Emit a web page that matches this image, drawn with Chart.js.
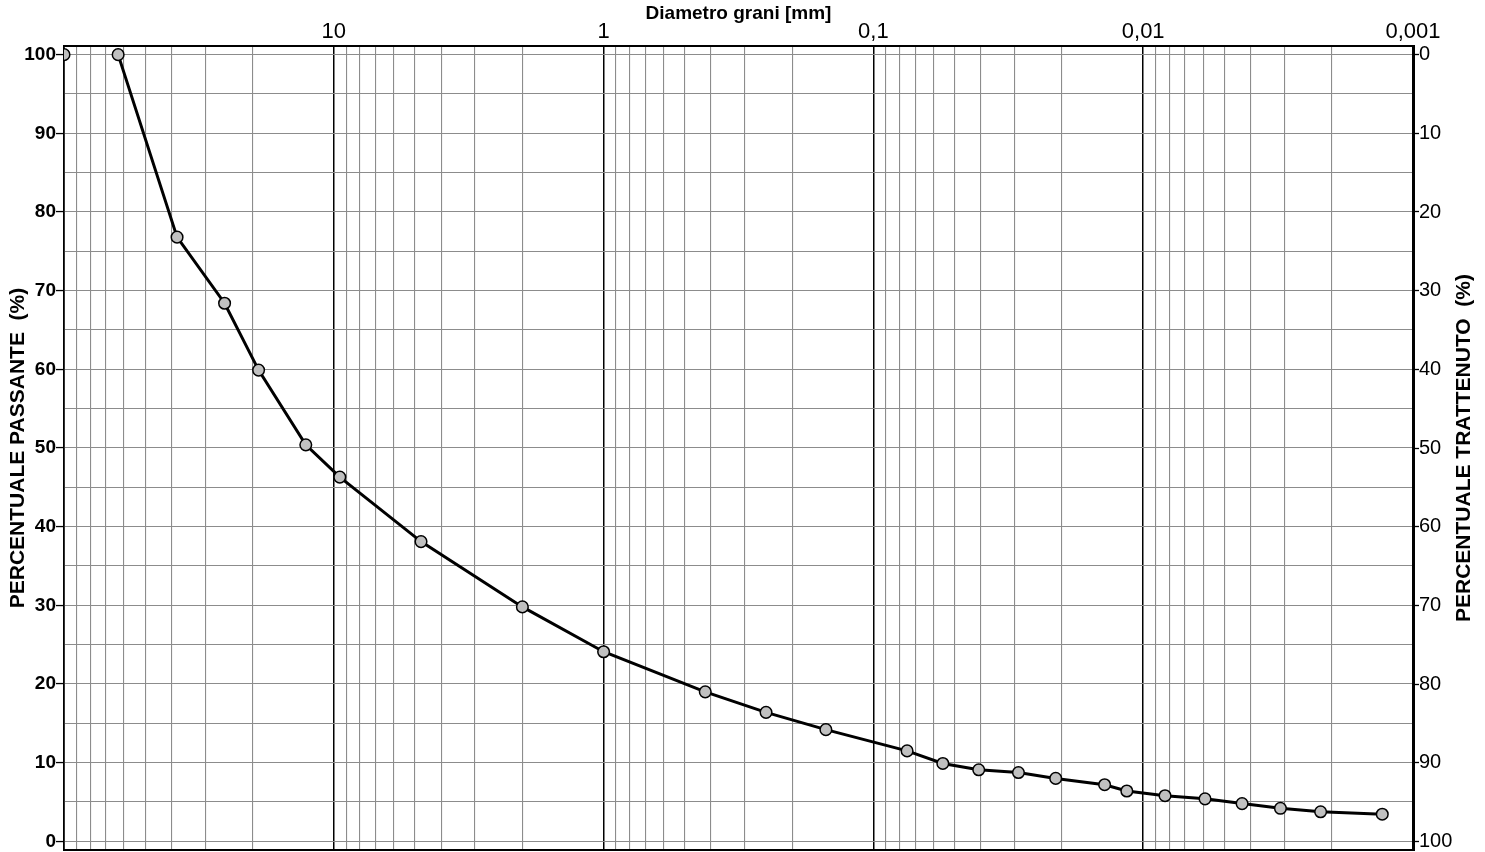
<!DOCTYPE html>
<html><head><meta charset="utf-8">
<script src="https://cdn.jsdelivr.net/npm/chart.js@4"></script>
<style>html,body{margin:0;padding:0;background:#fff}#wrap{width:1485px;height:852px;position:relative}</style>
</head><body><div id="wrap"><canvas id="c"></canvas></div>
<script>
// ---- data ----
const diameters = [100, 63, 38.1, 25.4, 19, 12.7, 9.5, 4.75, 2, 1, 0.42, 0.25, 0.15, 0.075, 0.0553, 0.0407, 0.029, 0.0211, 0.0139, 0.0115, 0.0083, 0.0059, 0.0043, 0.0031, 0.0022, 0.0013];
const passing   = [100, 100, 76.8, 68.4, 59.9, 50.4, 46.3, 38.1, 29.8, 24.1, 19.0, 16.4, 14.2, 11.5, 9.9, 9.1, 8.75, 8.0, 7.2, 6.4, 5.8, 5.4, 4.8, 4.2, 3.76, 3.45];

const decadeValues = [100, 10, 1, 0.1, 0.01, 0.001];
const decadeLabels = ['', '10', '1', '0,1', '0,01', '0,001'];
const minorMultipliers = [1, 2, 3, 4, 5, 6, 7, 8, 9];
const yLabelTicks = [0, 10, 20, 30, 40, 50, 60, 70, 80, 90, 100];
const yGridTicks = [0, 5, 10, 15, 20, 25, 30, 35, 40, 45, 50, 55, 60, 65, 70, 75, 80, 85, 90, 95, 100];

const xTitle = 'Diametro grani [mm]';
const yLeftTitle = 'PERCENTUALE PASSANTE  (%)';
const yRightTitle = 'PERCENTUALE TRATTENUTO  (%)';

// ---- helpers ----
const FONT = '"Liberation Sans", Arial, sans-serif';
const xTickValues = [];
decadeValues.slice(1).forEach(d => minorMultipliers.forEach(m => xTickValues.push(d * m)));
xTickValues.push(100);
function decadeIndex(v) {
  for (let i = 0; i < decadeValues.length; i++) {
    if (Math.abs(Math.log10(v) - Math.log10(decadeValues[i])) < 1e-9) return i;
  }
  return -1;
}

const points = diameters.map((d, i) => ({ x: d, y: passing[i] }));

const rightTitlePlugin = {
  id: 'rightTitle',
  afterDraw(chart) {
    const ctx = chart.ctx, s = chart.scales.y2, a = chart.chartArea;
    ctx.save();
    ctx.font = 'bold 21px ' + FONT;
    ctx.fillStyle = '#000';
    ctx.textAlign = 'center';
    ctx.textBaseline = 'middle';
    ctx.translate(s.right - 21, (a.top + a.bottom) / 2);
    ctx.rotate(-Math.PI / 2);
    ctx.fillText(yRightTitle, 0, 0);
    ctx.restore();
  }
};

const noPad = s => { s.paddingTop = 0; s.paddingBottom = 0; s.paddingLeft = 0; s.paddingRight = 0; };

new Chart(document.getElementById('c'), {
  type: 'line',
  data: {
    datasets: [{
      data: points,
      borderColor: '#000',
      borderWidth: 3,
      tension: 0,
      segment: { borderColor: c => c.p0DataIndex === 0 ? 'rgba(0,0,0,0)' : '#000' },
      pointRadius: 5.8,
      pointBackgroundColor: '#c0c0c0',
      pointBorderColor: '#000',
      pointBorderWidth: 1.5,
      xAxisID: 'x',
      yAxisID: 'y'
    }]
  },
  options: {
    responsive: true,
    maintainAspectRatio: false,
    animation: false,
    layout: { padding: 0, autoPadding: false },
    plugins: { legend: { display: false }, tooltip: { enabled: false } },
    scales: {
      x: {
        type: 'logarithmic',
        position: 'top',
        reverse: true,
        min: 0.001,
        max: 100,
        afterBuildTicks: s => { s.ticks = xTickValues.map(v => ({ value: v })); },
        afterFit: s => { s.height = 46; noPad(s); },
        ticks: {
          autoSkip: false, maxRotation: 0, padding: 1,
          color: '#000',
          font: { family: FONT, size: 22 },
          callback: v => { const i = decadeIndex(v); return i >= 0 ? decadeLabels[i] : ''; }
        },
        grid: {
          drawTicks: false,
          color: c => (c.tick && decadeIndex(c.tick.value) >= 0) ? '#000' : '#8c8c8c',
          lineWidth: c => (c.tick && decadeIndex(c.tick.value) >= 0) ? 1.5 : 1.1
        },
        border: { display: true, color: '#000', width: 2 },
        title: { display: true, text: xTitle, color: '#000', font: { family: FONT, size: 19, weight: 'bold' }, padding: { top: 2, bottom: 0 } }
      },
      xb: {
        type: 'linear',
        position: 'bottom',
        min: 0, max: 1,
        afterFit: s => { s.height = 2; noPad(s); },
        ticks: { display: false },
        grid: { drawOnChartArea: false, drawTicks: false },
        border: { display: true, color: '#000', width: 2 }
      },
      y: {
        type: 'linear',
        position: 'left',
        min: -1.1,
        max: 101.1,
        afterBuildTicks: s => { s.ticks = yGridTicks.map(v => ({ value: v })); },
        afterFit: s => { s.width = 64; noPad(s); },
        ticks: {
          autoSkip: false, padding: 0, color: '#000',
          font: { family: FONT, size: 19, weight: 'bold' },
          callback: v => yLabelTicks.includes(v) ? String(v) : ''
        },
        grid: {
          color: '#8c8c8c',
          lineWidth: 1.1,
          tickLength: 8,
          tickColor: c => (c.tick && yLabelTicks.includes(c.tick.value)) ? '#000' : 'rgba(0,0,0,0)',
          tickWidth: 1.3
        },
        border: { display: true, color: '#000', width: 1.6 },
        title: { display: true, text: yLeftTitle, color: '#000', font: { family: FONT, size: 21, weight: 'bold' }, padding: { top: 6, bottom: 0 } }
      },
      y2: {
        type: 'linear',
        position: 'right',
        reverse: true,
        min: -1.1,
        max: 101.1,
        afterBuildTicks: s => { s.ticks = yLabelTicks.map(v => ({ value: v })); },
        afterFit: s => { s.width = 72; noPad(s); },
        ticks: {
          autoSkip: false, padding: 0, color: '#000',
          font: { family: FONT, size: 20 },
          callback: v => String(v)
        },
        grid: { drawOnChartArea: false, tickLength: 6, tickColor: '#000', tickWidth: 1.3 },
        border: { display: true, color: '#000', width: 3 }
      }
    }
  },
  plugins: [rightTitlePlugin]
});
</script>
</body></html>
